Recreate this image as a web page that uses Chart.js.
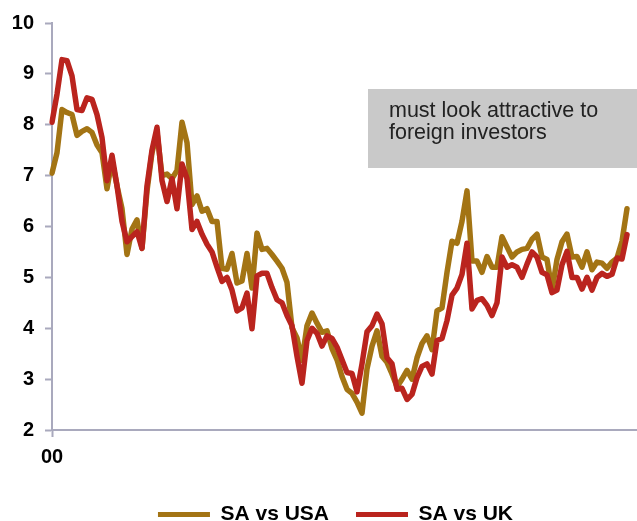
<!DOCTYPE html>
<html><head><meta charset="utf-8">
<script src="https://cdn.jsdelivr.net/npm/chart.js@4.4.1/dist/chart.umd.min.js"></script>
<style>html,body{margin:0;padding:0;background:#fff;}#wrap{width:637px;height:521px;position:relative;}</style>
</head><body><div id="wrap"><canvas id="c" width="637" height="521"></canvas></div>
<script>
const saVsUsa = [7.05,7.45,8.30,8.24,8.20,7.79,7.87,7.92,7.85,7.60,7.45,6.74,7.30,6.80,6.35,5.45,5.95,6.13,5.57,6.70,
7.45,7.85,7.00,7.03,6.94,7.10,8.05,7.65,6.43,6.60,6.30,6.35,6.10,6.10,5.18,5.16,5.47,4.89,4.93,5.47,
4.79,5.87,5.55,5.57,5.45,5.32,5.18,4.90,4.01,3.81,3.37,4.05,4.30,4.10,3.92,3.95,3.60,3.38,3.05,2.80,
2.72,2.55,2.33,3.20,3.65,3.95,3.45,3.33,3.10,2.85,3.00,3.17,3.00,3.42,3.70,3.85,3.58,4.34,4.40,5.10,
5.71,5.67,6.10,6.70,5.32,5.32,5.10,5.41,5.20,5.20,5.80,5.60,5.40,5.50,5.55,5.57,5.75,5.85,5.40,5.35,
4.75,5.35,5.70,5.85,5.40,5.41,5.20,5.50,5.15,5.30,5.28,5.18,5.30,5.38,5.71,6.35];
const saVsUk = [8.05,8.60,9.28,9.26,8.96,8.30,8.28,8.53,8.50,8.20,7.75,6.90,7.40,6.80,6.10,5.70,5.80,5.90,5.57,6.80,
7.50,7.95,6.90,6.49,6.94,6.35,7.23,6.94,5.94,6.10,5.85,5.65,5.50,5.20,4.92,5.00,4.75,4.34,4.40,4.69,
3.99,5.03,5.08,5.08,4.80,4.56,4.50,4.25,4.05,3.45,2.92,3.76,4.00,3.90,3.65,3.85,3.80,3.63,3.38,3.13,
3.11,2.75,3.30,3.93,4.05,4.28,4.09,3.42,3.30,2.80,2.82,2.60,2.70,3.03,3.25,3.30,3.10,3.76,3.80,4.15,
4.65,4.79,5.06,5.67,4.38,4.55,4.58,4.45,4.25,4.50,5.40,5.20,5.25,5.20,5.00,5.26,5.50,5.40,5.10,5.05,
4.70,4.75,5.25,5.51,5.00,5.00,4.77,5.00,4.75,5.00,5.08,5.02,5.06,5.38,5.36,5.84];
const seriesNames = ['SA vs USA', 'SA vs UK'];
const seriesColors = ['#A37414', '#BA241E'];
const xTickLabels = ['00'];
const yRange = [2, 10];
const noteLines = ['must look attractive to', 'foreign investors'];
const monthNames = ['Jan','Feb','Mar','Apr','May','Jun','Jul','Aug','Sep','Oct','Nov','Dec'];
const categories = [];
for (let i = 0; i < 118; i++) {
  categories.push(monthNames[i % 12] + '-' + String(i / 12 | 0).padStart(2, '0'));
}
const FONT = "'Liberation Sans', Arial, sans-serif";
const axisColor = '#a9a9bd';

const notePlugin = {
  id: 'note',
  afterLayout(chart) {
    const lg = chart.legend;
    if (lg) { lg.left += 17; lg.right += 17; }
  },
  beforeDatasetsDraw(chart) {
    const ctx = chart.ctx;
    ctx.save();
    ctx.fillStyle = '#c9c9c9';
    ctx.fillRect(368, 89, 269, 79);
    ctx.fillStyle = '#222';
    ctx.font = '21.5px ' + FONT;
    ctx.textBaseline = 'alphabetic';
    ctx.fillText(noteLines[0], 389, 117);
    ctx.fillText(noteLines[1], 389, 139);
    ctx.restore();
  }
};

new Chart(document.getElementById('c'), {
  type: 'line',
  data: {
    labels: categories,
    datasets: [
      { label: seriesNames[1], data: saVsUk, borderColor: seriesColors[1], backgroundColor: seriesColors[1] },
      { label: seriesNames[0], data: saVsUsa, borderColor: seriesColors[0], backgroundColor: seriesColors[0] }
    ].map(d => Object.assign(d, { borderWidth: 5.5, pointRadius: 0, tension: 0, fill: false,
      borderJoinStyle: 'round', borderCapStyle: 'round' }))
  },
  options: {
    responsive: false,
    animation: false,
    devicePixelRatio: 1,
    layout: { padding: { top: 20, left: 0, right: 0, bottom: -14 } },
    plugins: {
      tooltip: { enabled: false },
      legend: {
        position: 'bottom',
        labels: {
          font: { family: FONT, size: 21, weight: 'bold' },
          color: '#000',
          boxWidth: 52, boxHeight: 5, padding: 27,
          useBorderRadius: true, borderRadius: 2.5,
          generateLabels: chart => [1, 0].map(i => ({
            text: chart.data.datasets[i].label,
            fillStyle: chart.data.datasets[i].borderColor,
            strokeStyle: chart.data.datasets[i].borderColor,
            lineWidth: 0, hidden: false, datasetIndex: i
          }))
        }
      }
    },
    scales: {
      x: {
        type: 'category',
        grid: { drawOnChartArea: false, drawTicks: true, tickLength: 7, tickColor: axisColor, tickWidth: 2 },
        border: { color: axisColor, width: 2 },
        ticks: { autoSkip: false, maxRotation: 0, padding: 8, color: '#000',
          font: { family: FONT, size: 20, weight: 'bold' },
          callback: (v, i) => i === 0 ? xTickLabels[0] : null },
        afterFit: s => { s.height = 47; }
      },
      y: {
        min: yRange[0], max: yRange[1],
        grid: { drawOnChartArea: false, drawTicks: true, tickLength: 7, tickColor: axisColor, tickWidth: 2 },
        border: { color: axisColor, width: 2 },
        ticks: { stepSize: 1, padding: 11, color: '#000', font: { family: FONT, size: 20, weight: 'bold' } },
        afterFit: s => { s.width = 52; }
      }
    }
  },
  plugins: [notePlugin]
});
</script></body></html>
